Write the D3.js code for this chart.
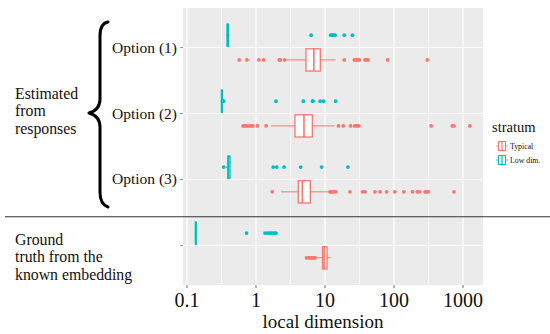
<!DOCTYPE html>
<html>
<head>
<meta charset="utf-8">
<script src="https://cdn.jsdelivr.net/npm/d3@7"></script>
<style>
  body { margin: 0; background: #fff; }
  svg { display: block; }
  text { font-family: "Liberation Serif", "DejaVu Serif", serif; }
</style>
</head>
<body>
<svg id="chart" width="550" height="334"></svg>
<script>
const categories = ["opt1", "opt2", "opt3", "truth"];
const yLabels = ["Option (1)", "Option (2)", "Option (3)", ""];
const strata = ["Typical", "Low dim."];
const xTicks = [0.1, 1, 10, 100, 1000];
const xMinor = [0.316, 3.16, 31.6, 316];

// [lower whisker, q1, median, q3, upper whisker]
const typicalBox = [
  [2.7, 5.3, 6.9, 8.55, 14.3],
  [1.65, 3.67, 4.96, 6.55, 13.6],
  [2.3, 4.1, 4.69, 6.12, 11.4],
  [7.6, 9.2, 9.7, 10.7, 12.1]
];
const typicalOut = [
  [0.57, 0.74, 1.1, 1.29, 2.18, 2.25, 2.6, 19, 26.6, 28.1, 29.7, 31.5, 38, 40, 42, 81, 304],
  [0.65, 0.69, 0.73, 0.79, 0.85, 0.9, 1.05, 1.4, 15.7, 18.4, 23.5, 27, 28.8, 31, 346, 700, 741, 1260],
  [1.72, 11.8, 12.5, 13.2, 14.3, 23, 35, 38, 53, 63, 78, 103, 139, 186, 218, 233, 282, 298, 315, 741],
  [5.4, 5.8, 6.1, 6.4, 6.7, 7.0, 7.2]
];
const lowBox = [
  [0.37, 0.38, 0.39, 0.40, 0.41],
  [0.31, 0.315, 0.32, 0.325, 0.33],
  [0.36, 0.39, 0.40, 0.42, 0.42],
  [0.13, 0.132, 0.134, 0.136, 0.138]
];
const lowOut = [
  [6.3, 12.1, 12.6, 13.1, 13.6, 14, 19, 25],
  [0.34, 1.95, 4.85, 6.6, 6.7, 8.5, 9.5, 14.3],
  [0.34, 1.78, 2.0, 2.55, 4.44, 8.95, 21.5],
  [0.73, 1.35, 1.45, 1.55, 1.65, 1.75, 1.85, 1.95]
];

const colors = { "Typical": "#F8766D", "Low dim.": "#00BFC4" };
const panel = { left: 183, right: 483, top: 8, bottom: 285 };

const svg = d3.select("#chart");

const x = d3.scaleLog()
  .domain([0.0875, 1950])
  .range([panel.left, panel.right]);

const y = d3.scalePoint()
  .domain(categories)
  .range([panel.top, panel.bottom])
  .padding(0.6);

const step = y.step();
const dodge = d3.scaleBand()
  .domain(["Low dim.", "Typical"])
  .range([-0.375 * step, 0.375 * step]);
const boxH = dodge.bandwidth() * 0.9;

// panel
svg.append("rect")
  .attr("x", panel.left).attr("y", panel.top)
  .attr("width", panel.right - panel.left)
  .attr("height", panel.bottom - panel.top)
  .attr("fill", "#EBEBEB");

svg.selectAll(".minor")
  .data(xMinor)
  .enter().append("line")
  .attr("x1", d => x(d)).attr("x2", d => x(d))
  .attr("y1", panel.top).attr("y2", panel.bottom)
  .attr("stroke", "#fff").attr("stroke-width", 0.6);

svg.selectAll(".major")
  .data(xTicks)
  .enter().append("line")
  .attr("x1", d => x(d)).attr("x2", d => x(d))
  .attr("y1", panel.top).attr("y2", panel.bottom)
  .attr("stroke", "#fff").attr("stroke-width", 1.1);

svg.selectAll(".hgrid")
  .data(categories)
  .enter().append("line")
  .attr("x1", panel.left).attr("x2", panel.right)
  .attr("y1", d => y(d)).attr("y2", d => y(d))
  .attr("stroke", "#fff").attr("stroke-width", 1.1);

// boxplots
function drawSeries(stats, outs, stratum) {
  const col = colors[stratum];
  const g = svg.append("g");
  categories.forEach((c, i) => {
    const cy = y(c) + dodge(stratum) + dodge.bandwidth() / 2;
    const s = stats[i];
    g.append("line")
      .attr("x1", x(s[0])).attr("x2", x(s[1]))
      .attr("y1", cy).attr("y2", cy)
      .attr("stroke", col).attr("stroke-width", 1);
    g.append("line")
      .attr("x1", x(s[3])).attr("x2", x(s[4]))
      .attr("y1", cy).attr("y2", cy)
      .attr("stroke", col).attr("stroke-width", 1);
    g.append("rect")
      .attr("x", x(s[1]))
      .attr("y", cy - boxH / 2)
      .attr("width", Math.max(0.5, x(s[3]) - x(s[1])))
      .attr("height", boxH)
      .attr("fill", "#fff")
      .attr("stroke", col).attr("stroke-width", 1.3);
    g.append("line")
      .attr("x1", x(s[2])).attr("x2", x(s[2]))
      .attr("y1", cy - boxH / 2).attr("y2", cy + boxH / 2)
      .attr("stroke", col).attr("stroke-width", 1.6);
    g.selectAll(null)
      .data(outs[i])
      .enter().append("circle")
      .attr("cx", d => x(d))
      .attr("cy", cy)
      .attr("r", 1.9)
      .attr("fill", col);
  });
}
drawSeries(lowBox, lowOut, "Low dim.");
drawSeries(typicalBox, typicalOut, "Typical");

// x axis
const xAxis = svg.append("g");
xAxis.selectAll("line")
  .data(xTicks)
  .enter().append("line")
  .attr("x1", d => x(d)).attr("x2", d => x(d))
  .attr("y1", panel.bottom).attr("y2", panel.bottom + 3)
  .attr("stroke", "#444").attr("stroke-width", 0.8);
xAxis.selectAll("text")
  .data(xTicks)
  .enter().append("text")
  .attr("x", d => x(d))
  .attr("y", 307)
  .attr("text-anchor", "middle")
  .attr("font-size", 20)
  .attr("fill", "#111")
  .text(d => d3.format("~g")(d));

svg.append("text")
  .attr("x", 323).attr("y", 328)
  .attr("text-anchor", "middle")
  .attr("font-size", 19)
  .attr("fill", "#111")
  .text("local dimension");

// y axis
const yAxis = svg.append("g");
yAxis.selectAll("line")
  .data(categories)
  .enter().append("line")
  .attr("x1", panel.left - 3).attr("x2", panel.left)
  .attr("y1", d => y(d)).attr("y2", d => y(d))
  .attr("stroke", "#777").attr("stroke-width", 0.8);
yAxis.selectAll("text")
  .data(categories)
  .enter().append("text")
  .attr("x", 177)
  .attr("y", d => y(d) + 5)
  .attr("text-anchor", "end")
  .attr("font-size", 15.5)
  .attr("fill", "#111")
  .text((d, i) => yLabels[i]);

// brace and group labels
svg.append("path")
  .attr("d", "M108,22 C102,23 100,28 100,36 L100,99 C100,107 96,111 89,113 C96,115 100,119 100,127 L100,192 C100,200 102,205 108,207")
  .attr("fill", "none")
  .attr("stroke", "#000")
  .attr("stroke-width", 3)
  .attr("stroke-linecap", "round")
  .attr("stroke-linejoin", "round");

const groupText = [
  { lines: ["Estimated", "from", "responses"], y: 99 },
  { lines: ["Ground", "truth from the", "known embedding"], y: 245 }
];
groupText.forEach(t => {
  t.lines.forEach((l, i) => {
    svg.append("text")
      .attr("x", 15)
      .attr("y", t.y + i * 17.4)
      .attr("font-size", 15.8)
      .attr("textLength", null)
      .attr("fill", "#111")
      .text(l);
  });
});

svg.append("line")
  .attr("x1", 5).attr("x2", 550)
  .attr("y1", 216.7).attr("y2", 216.7)
  .attr("stroke", "#333").attr("stroke-width", 1.1);

// legend
const legend = svg.append("g");
legend.append("text")
  .attr("x", 492).attr("y", 132)
  .attr("font-size", 14.5)
  .attr("fill", "#111")
  .text("stratum");

strata.forEach((s, i) => {
  const ky = 146 + i * 14;
  const col = colors[s];
  const k = legend.append("g");
  k.append("line")
    .attr("x1", 496).attr("x2", 508)
    .attr("y1", ky).attr("y2", ky)
    .attr("stroke", col).attr("stroke-width", 0.8);
  k.append("rect")
    .attr("x", 498.5).attr("y", ky - 4.5)
    .attr("width", 7).attr("height", 9)
    .attr("fill", "#fff")
    .attr("stroke", col).attr("stroke-width", 1);
  k.append("line")
    .attr("x1", 502).attr("x2", 502)
    .attr("y1", ky - 4.5).attr("y2", ky + 4.5)
    .attr("stroke", col).attr("stroke-width", 1.2);
  legend.append("text")
    .attr("x", 510).attr("y", ky + 3)
    .attr("font-size", 7.8)
    .attr("fill", "#111")
    .text(s);
});
</script>
</body>
</html>
